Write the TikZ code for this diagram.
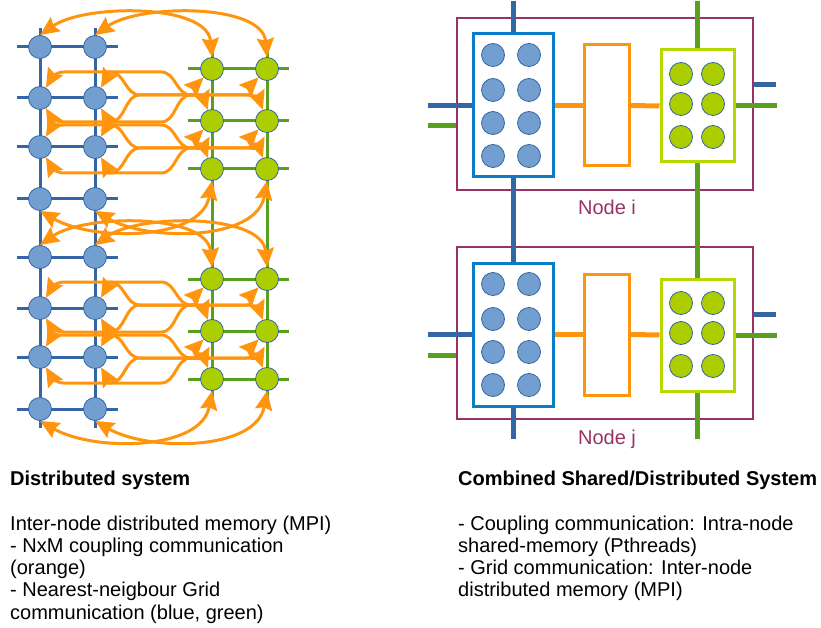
\documentclass[tikz,border=0pt]{standalone}
\usepackage{fontspec}
\setmainfont{Liberation Sans}
\usetikzlibrary{positioning,arrows.meta,backgrounds}
\definecolor{gridblue}{RGB}{52,101,164}
\definecolor{cellblue}{RGB}{114,159,207}
\definecolor{boxblue}{RGB}{10,125,200}
\definecolor{gridgreen}{RGB}{88,160,30}
\definecolor{cellgreen}{RGB}{172,206,0}
\definecolor{boxgreen}{RGB}{182,216,0}
\definecolor{coupling}{RGB}{255,149,14}
\definecolor{nodepurple}{RGB}{153,51,102}

\begin{document}
\begin{tikzpicture}[x=1pt,y=1pt]
    \tikzstyle{every node}=[inner sep=0,font=\fontsize{20}{22.3}\selectfont]
    \tikzstyle{cell}=[circle,minimum size=23,draw=gridblue,line width=0.8]
    \tikzstyle{bcell}=[cell,fill=cellblue]
    \tikzstyle{gcell}=[cell,fill=cellgreen]
    \tikzstyle{bgrid}=[draw=gridblue,line width=3]
    \tikzstyle{ggrid}=[draw=gridgreen,line width=3]
    \tikzstyle{coup}=[draw=coupling,line width=3,<->,>={Stealth[length=19pt,width=17pt,inset=2.5pt]}]
    \tikzstyle{bbar}=[draw=gridblue,line width=5]
    \tikzstyle{gbar}=[draw=gridgreen,line width=5]
    \tikzstyle{obar}=[draw=coupling,line width=5]
    \tikzstyle{frame}=[rectangle,line width=3,fill=white]
    \useasboundingbox (0,0) rectangle (821,-628);

    % distributed system
    \foreach \s/\dy in {0/0,1/210}{
        \foreach \r/\y in {1/47,2/98,3/147,4/199}{
            \node[bcell] (b-\s-\r-1) at (40,-\y-\dy) {};
            \node[bcell] (b-\s-\r-2) at (95,-\y-\dy) {};
        }
        \foreach \r/\y in {1/69,2/121,3/169}{
            \node[gcell] (g-\s-\r-1) at (212,-\y-\dy) {};
            \node[gcell] (g-\s-\r-2) at (267,-\y-\dy) {};
        }
    }
    \begin{scope}[on background layer]
        \foreach \c in {1,2}{
            \draw[bgrid] ([yshift=19]b-0-1-\c.center) -- ([yshift=-19]b-1-4-\c.center);
            \draw[ggrid] ([yshift=19]g-0-1-\c.center) -- ([yshift=-21]g-1-3-\c.center);
        }
        \foreach \s in {0,1}{
            \foreach \r in {1,...,4}
                \draw[bgrid] ([xshift=-23]b-\s-\r-1.center) -- ([xshift=23]b-\s-\r-2.center);
            \foreach \r in {1,2,3}
                \draw[ggrid] ([xshift=-24]g-\s-\r-1.center) -- ([xshift=22]g-\s-\r-2.center);
        }
    \end{scope}
    \foreach \s/\dy in {0/0,1/210}{
        \foreach \c/\xs/\xt/\xg in {1/64/176/212,2/110/125/267}{
            \draw[coup] (b-\s-1-\c.north) to[out=35,in=95,looseness=0.8] (g-\s-1-\c.north);
            \draw[coup] (b-\s-4-\c.south) to[out=-30,in=-100,looseness=0.9] (g-\s-3-\c.south);
            \foreach \rb/\ab/\yb/\rg/\ag/\yg in {2/60/72/1/225/95,2/-60/122/2/110/95,3/60/125/2/225/148,3/-60/173/3/110/148}
                \draw[coup] (b-\s-\rb-\c.\ab) to[out=\ab,in=180] (\xs,-\yb-\dy) -- (\xt-15,-\yb-\dy)
                    to[out=0,in=180] (\xt+15,-\yg-\dy) -- (\xg-20,-\yg-\dy) to[out=0,in=\ag] (g-\s-\rg-\c.\ag);
        }
    }

    % combined shared/distributed system
    \foreach \n/\dy in {i/0,j/229}{
        \node[draw=nodepurple,line width=2.5,minimum width=296,minimum height=172] (nd-\n) at (605,-104-\dy) {};
        \node[text=nodepurple,anchor=base] (lab-\n) at (607,-215-\dy) {Node \n};
        \node[frame,draw=boxblue,minimum width=80,minimum height=143] (bbox-\n) at (513,-105.5-\dy) {};
        \node[frame,draw=coupling,minimum width=45,minimum height=121] (obox-\n) at (606.5,-105.5-\dy) {};
        \node[frame,draw=boxgreen,minimum width=73,minimum height=112] (gbox-\n) at (697.5,-106-\dy) {};
        \foreach \r/\y in {1/55,2/90,3/123,4/156}{
            \node[bcell] (bc-\n-\r-1) at (493,-\y-\dy) {};
            \node[bcell] (bc-\n-\r-2) at (529,-\y-\dy) {};
        }
        \foreach \r/\y in {1/74,2/104,3/137}{
            \node[gcell] (gc-\n-\r-1) at (681,-\y-\dy) {};
            \node[gcell] (gc-\n-\r-2) at (713,-\y-\dy) {};
        }
        \draw[obar] (bbox-\n.east) -- (obox-\n.west);
        \draw[obar] (obox-\n.east) -- (gbox-\n.west);
        \draw[bbar] (bbox-\n.west) -- ++(-44,0);
        \draw[gbar] ([yshift=-22]nd-\n.west) -- ++(-28,0);
        \draw[bbar] ([yshift=19]nd-\n.east) -- ++(22,0);
        \draw[gbar] (gbox-\n.east) -- ++(41,0);
    }
    \draw[bbar] (bbox-i.north) -- ++(0,31);
    \draw[bbar] (bbox-i.south) -- (bbox-j.north);
    \draw[bbar] (bbox-j.south) -- ++(0,-31);
    \draw[gbar] (gbox-i.north) -- ++(0,47);
    \draw[gbar] (gbox-i.south) -- (gbox-j.north);
    \draw[gbar] (gbox-j.south) -- ++(0,-46);

    % captions
    \node[anchor=base west] (head-l) at (10,-485) {\textbf{Distributed system}};
    \node[anchor=base west,align=left] (text-l) at (10,-619.2) {Inter-node distributed memory (MPI)\\- NxM coupling communication\\(orange)\\- Nearest-neigbour Grid\\communication (blue, green)};
    \node[anchor=base west] (head-r) at (458,-485) {\textbf{Combined Shared/Distributed System}};
    \node[anchor=base west,align=left] (text-r) at (458,-596.9) {- Coupling communication: Intra-node\\shared-memory (Pthreads)\\- Grid communication: Inter-node\\distributed memory (MPI)};
\end{tikzpicture}
\end{document}
